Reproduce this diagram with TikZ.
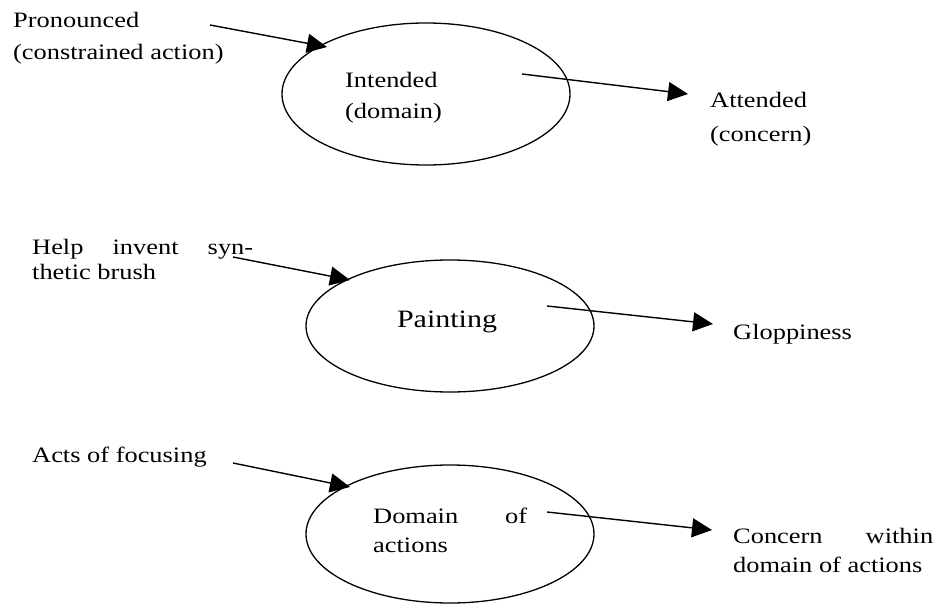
\documentclass[tikz,border=0pt]{standalone}
\usepackage{fontspec}
\setmainfont[FakeStretch=1.2]{Liberation Serif}
\usetikzlibrary{shapes.geometric,arrows.meta}
\begin{document}
\begin{tikzpicture}[x=1pt,y=-1pt,
  oval/.style={draw, ellipse, line width=1.3pt, inner sep=0pt, minimum width=288pt},
  conn/.style={line width=1.4pt, -{Triangle[length=20pt,width=19pt]}},
  lbl/.style={anchor=base west, inner sep=0pt, align=left, font=\fontsize{22}{#1}\selectfont},
  lbl/.default=28
]
\useasboundingbox (0,0) rectangle (938,604);

% ellipses
\node[oval, minimum height=142pt] (e1) at (426,94) {};
\node[oval, minimum height=132pt] (e2) at (450,326) {};
\node[oval, minimum height=138pt] (e3) at (450,534) {};

% labels (anchor = baseline of the last line)
\node[lbl=32] (pron) at (13,60) {Pronounced\\(constrained action)};
\node[lbl=31] (inten) at (345,119) {Intended\\(domain)};
\node[lbl=34] (atten) at (710,142) {Attended\\(concern)};
\node[lbl=25] (help) at (32,280) {\makebox[221pt][s]{Help invent syn-}\\thetic brush};
\node[anchor=base, inner sep=0pt, font=\fontsize{25}{30}\selectfont] (paint) at (447,327) {Painting};
\node[lbl] (glop) at (733,340) {Gloppiness};
\node[lbl] (acts) at (32,462) {Acts of focusing};
\node[lbl=29] (domact) at (373,552) {\makebox[154pt][s]{Domain of}\\actions};
\node[lbl=29] (conc) at (733,572) {\makebox[200pt][s]{Concern within}\\domain of actions};

% connector ends
\coordinate (a1s) at (210,25);  \coordinate (a1e) at (327,47);
\coordinate (a2s) at (522,74);  \coordinate (a2e) at (688,94);
\coordinate (a3s) at (233,257); \coordinate (a3e) at (350,280);
\coordinate (a4s) at (547,306); \coordinate (a4e) at (713,324);
\coordinate (a5s) at (233,463); \coordinate (a5e) at (350,487);
\coordinate (a6s) at (547,512); \coordinate (a6e) at (712,530);

\draw[conn] (a1s) -- (a1e);
\draw[conn] (a2s) -- (a2e);
\draw[conn] (a3s) -- (a3e);
\draw[conn] (a4s) -- (a4e);
\draw[conn] (a5s) -- (a5e);
\draw[conn] (a6s) -- (a6e);
\end{tikzpicture}
\end{document}
